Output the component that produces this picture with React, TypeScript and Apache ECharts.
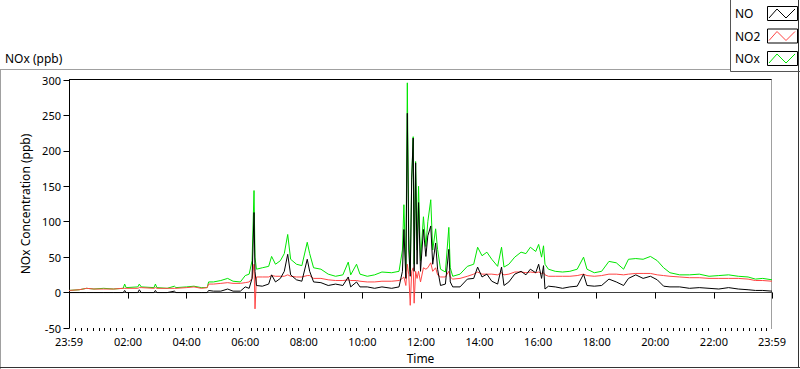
import React, { useEffect, useRef } from "react";
import * as echarts from "echarts";

// Time stamps (first "23:59" is the previous day, last one is end of day)
const times: string[] = [
  "23:59", "00:20", "00:35", "00:50", "01:10", "01:30", "01:50", "01:53", "01:56", "02:20",
  "02:23", "02:27", "02:53", "02:56", "02:59", "03:20", "03:35", "03:38", "04:00", "04:15",
  "04:30", "04:42", "04:45", "04:55", "05:10", "05:24", "05:35", "05:50", "06:00", "06:08",
  "06:14", "06:18", "06:20", "06:23", "06:35", "06:48", "06:54", "07:02", "07:12", "07:20",
  "07:27", "07:33", "07:45", "07:56", "08:07", "08:12", "08:20", "08:35", "08:50", "09:05",
  "09:20", "09:31", "09:36", "09:48", "09:55", "10:10", "10:25", "10:40", "11:00", "11:15",
  "11:22", "11:25", "11:29", "11:32", "11:35", "11:38", "11:41", "11:44", "11:46", "11:49",
  "11:52", "11:55", "11:59", "12:05", "12:10", "12:14", "12:20", "12:24", "12:30", "12:34",
  "12:40", "12:50", "12:57", "13:00", "13:05", "13:20", "13:35", "13:48", "13:56", "14:05",
  "14:15", "14:25", "14:37", "14:45", "14:50", "15:00", "15:12", "15:25", "15:35", "15:44",
  "15:55", "16:01", "16:07", "16:11", "16:14", "16:21", "16:35", "16:50", "17:05", "17:20",
  "17:33", "17:40", "17:55", "18:10", "18:25", "18:40", "18:55", "19:05", "19:20", "19:35",
  "19:50", "20:04", "20:17", "20:30", "20:50", "21:10", "21:30", "21:50", "22:10", "22:30",
  "22:50", "23:10", "23:25", "23:40", "23:59",
];

const noValues: number[] = [
  0, 0, 0, 0, 0, 0, 0, 3, 0, 0,
  4, 0, 0, 3, 0, 0, 2, 0, 0, 0,
  0, 0, 3, 2, 2, 5, 2, 2, 8, 6,
  20, 113, 30, 10, 9, 12, 25, 15, 20, 30,
  54, 25, 18, 16, 47, 30, 15, 14, 10, 12,
  10, 22, 8, 15, 8, 8, 6, 8, 6, 8,
  30, 89, 20, 253, 60, 23, 159, 218, 30, 183,
  40, 127, 30, 89, 51, 80, 94, 40, 70, 33,
  10, 12, 61, 15, 8, 8, 19, 20, 36, 22,
  26, 16, 12, 36, 10, 15, 26, 30, 25, 33,
  28, 40, 20, 38, 5, 9, 8, 6, 8, 9,
  26, 10, 9, 10, 19, 15, 10, 20, 25, 20,
  23, 18, 9, 8, 8, 6, 7, 6, 5, 7,
  5, 4, 3, 3, 2,
];

const no2Values: number[] = [
  3, 4, 6, 5, 5, 5, 6, 6, 6, 6,
  7, 7, 6, 7, 6, 6, 6, 6, 7, 8,
  6, 7, 12, 12, 13, 14, 13, 13, 14, 15,
  20, 40, -23, 22, 22, 22, 24, 23, 23, 23,
  25, 23, 22, 22, 24, 24, 20, 20, 18, 17,
  17, 18, 17, 17, 16, 15, 15, 16, 16, 17,
  20, 22, 10, 40, 25, -18, 30, 35, -15, 30,
  20, 30, 15, 35, 33, 35, 42, 30, 35, 25,
  22, 22, 30, 22, 19, 20, 23, 26, 29, 26,
  26, 26, 25, 28, 25, 26, 29, 29, 28, 29,
  28, 29, 27, 28, 25, 23, 23, 23, 23, 24,
  26, 24, 23, 24, 26, 26, 25, 26, 27, 27,
  27, 25, 24, 23, 22, 21, 21, 20, 20, 20,
  20, 19, 17, 17, 16,
];

const noxValues: number[] = [
  3, 4, 6, 5, 6, 5, 6, 12, 7, 8,
  12, 8, 7, 12, 7, 6, 9, 7, 8, 9,
  7, 7, 15, 15, 17, 20, 16, 15, 24, 26,
  45, 144, 50, 33, 35, 37, 51, 40, 45, 55,
  82, 47, 40, 38, 71, 55, 35, 33, 26, 23,
  25, 43, 25, 40, 26, 23, 25, 29, 28, 30,
  60, 124, 30, 296, 80, 30, 162, 220, 40, 185,
  60, 150, 45, 107, 65, 100, 131, 60, 90, 61,
  33, 29, 92, 35, 23, 26, 37, 40, 64, 52,
  57, 47, 37, 64, 36, 40, 50, 57, 55, 64,
  58, 68, 50, 66, 40, 33, 30, 29, 30, 33,
  50, 33, 28, 30, 44, 42, 33, 47, 48, 47,
  51, 45, 35, 28, 25, 25, 26, 23, 24, 25,
  23, 22, 19, 20, 18,
];

const seriesNames = ["NO", "NO2", "NOx"];
const seriesColors = ["#000000", "#ff4444", "#00e600"];
const xTickLabels = ["23:59", "02:00", "04:00", "06:00", "08:00", "10:00", "12:00", "14:00", "16:00", "18:00", "20:00", "22:00", "23:59"];
const yTicks = { min: -50, max: 300, interval: 50 };

const FONT = '"Noto Sans", "Liberation Sans", sans-serif';

function toMinutes(t: string, i: number): number {
  const [h, m] = t.split(":").map(Number);
  if (i === 0 && h === 23) return -1;
  return h * 60 + m;
}

const xs = times.map(toMinutes);
const xMajor = xTickLabels.map((t, i) => toMinutes(t, i));
const X_MIN = xMajor[0];
const X_MAX = xMajor[xMajor.length - 1];
const xMinor: number[] = [];
for (let m = 12; m < X_MAX; m += 12) {
  if (m % 120 !== 0) xMinor.push(m);
}

function fmt(v: number): string {
  if (v === X_MIN || v === X_MAX) return "23:59";
  const h = Math.floor(v / 60);
  const m = v % 60;
  return String(h).padStart(2, "0") + ":" + String(m).padStart(2, "0");
}

const pairs = (vals: number[]) => xs.map((x, i) => [x, vals[i]]);

export default function App() {
  const ref = useRef<HTMLDivElement>(null);
  useEffect(() => {
    document.body.style.margin = "0";
    if (!ref.current) return;
    const chart = echarts.init(ref.current, undefined, { renderer: "svg" });

    const legendY = [13.5, 36, 58.5];
    const legendGraphics: any[] = [];
    seriesNames.forEach((name, i) => {
      const cy = legendY[i];
      legendGraphics.push({
        type: "text",
        x: 735,
        y: cy,
        style: { text: name, fill: "#000", font: `12px ${FONT}`, verticalAlign: "middle", align: "left" },
      });
      legendGraphics.push({
        type: "rect",
        shape: { x: 767.5, y: cy - 7, width: 30, height: 14 },
        style: { fill: "#fff", stroke: "#000", lineWidth: 1 },
      });
      legendGraphics.push({
        type: "polyline",
        shape: {
          points: [
            [769, cy + 4.5],
            [777, cy - 4.5],
            [786, cy + 4.5],
            [795, cy - 4.5],
          ],
        },
        style: { stroke: seriesColors[i], lineWidth: 1, fill: null },
      });
    });

    const option: any = {
      animation: false,
      backgroundColor: "#ffffff",
      textStyle: { fontFamily: FONT },
      grid: { left: 69, right: 28, top: 80, bottom: 40, containLabel: false },
      xAxis: [
        {
          type: "value",
          min: X_MIN,
          max: X_MAX,
          position: "bottom",
          name: "Time",
          nameLocation: "middle",
          nameGap: 24,
          nameTextStyle: { color: "#000", fontSize: 12, fontFamily: FONT },
          axisLine: { show: true, lineStyle: { color: "#404040", width: 1 } },
          axisTick: { show: true, inside: false, length: 6, customValues: xMajor, lineStyle: { color: "#000" } },
          axisLabel: {
            show: true,
            customValues: xMajor,
            formatter: (v: number) => fmt(v),
            color: "#000",
            fontSize: 11,
            fontFamily: FONT,
            margin: 8,
          },
          splitLine: { show: false },
        },
        {
          type: "value",
          min: X_MIN,
          max: X_MAX,
          position: "bottom",
          axisLine: { show: false },
          axisTick: { show: true, inside: false, length: 3, customValues: xMinor, lineStyle: { color: "#000" } },
          axisLabel: { show: false },
          splitLine: { show: false },
        },
      ],
      yAxis: {
        type: "value",
        min: yTicks.min,
        max: yTicks.max,
        interval: yTicks.interval,
        name: "NOx Concentration (ppb)",
        nameLocation: "middle",
        nameGap: 30,
        nameRotate: 90,
        nameTextStyle: { color: "#000", fontSize: 12, fontFamily: FONT },
        axisLine: { show: true, lineStyle: { color: "#000", width: 1 } },
        axisTick: { show: true, inside: false, length: 6, lineStyle: { color: "#000" } },
        axisLabel: { color: "#000", fontSize: 11, fontFamily: FONT, margin: 8 },
        splitLine: { show: false },
      },
      series: [
        {
          name: "NOx",
          type: "line",
          data: pairs(noxValues),
          showSymbol: false,
          symbol: "none",
          lineStyle: { width: 1, color: seriesColors[2] },
          itemStyle: { color: seriesColors[2] },
          z: 2,
        },
        {
          name: "NO2",
          type: "line",
          data: pairs(no2Values),
          showSymbol: false,
          symbol: "none",
          lineStyle: { width: 1, color: seriesColors[1] },
          itemStyle: { color: seriesColors[1] },
          z: 3,
        },
        {
          name: "NO",
          type: "line",
          data: pairs(noValues),
          showSymbol: false,
          symbol: "none",
          lineStyle: { width: 1, color: seriesColors[0] },
          itemStyle: { color: seriesColors[0] },
          z: 4,
        },
      ],
      graphic: [
        // outer frame
        { type: "line", shape: { x1: 0, y1: 69.5, x2: 730, y2: 69.5 }, style: { stroke: "#a0a0a0", lineWidth: 1 } },
        { type: "line", shape: { x1: 0.5, y1: 69.5, x2: 0.5, y2: 369 }, style: { stroke: "#a0a0a0", lineWidth: 1 } },
        { type: "line", shape: { x1: 0, y1: 367.5, x2: 800, y2: 367.5 }, style: { stroke: "#333", lineWidth: 1 } },
        { type: "line", shape: { x1: 798.5, y1: 0, x2: 798.5, y2: 368 }, style: { stroke: "#333", lineWidth: 1 } },
        // legend box
        { type: "line", shape: { x1: 730.5, y1: 0, x2: 730.5, y2: 71.5 }, style: { stroke: "#555", lineWidth: 1 } },
        { type: "line", shape: { x1: 730.5, y1: 71.5, x2: 800, y2: 71.5 }, style: { stroke: "#555", lineWidth: 1 } },
        // plot frame (top + right)
        { type: "line", shape: { x1: 69, y1: 79.5, x2: 772, y2: 79.5 }, style: { stroke: "#000", lineWidth: 1 } },
        { type: "line", shape: { x1: 771.5, y1: 79.5, x2: 771.5, y2: 329 }, style: { stroke: "#a0a0a0", lineWidth: 1 } },
        // chart title
        {
          type: "text",
          x: 5,
          y: 58,
          style: { text: "NOx (ppb)", fill: "#000", font: `12px ${FONT}`, verticalAlign: "middle", align: "left" },
        },
        ...legendGraphics,
      ],
    };
    chart.setOption(option);
    return () => chart.dispose();
  }, []);
  return <div ref={ref} style={{ width: 800, height: 369 }} />;
}
